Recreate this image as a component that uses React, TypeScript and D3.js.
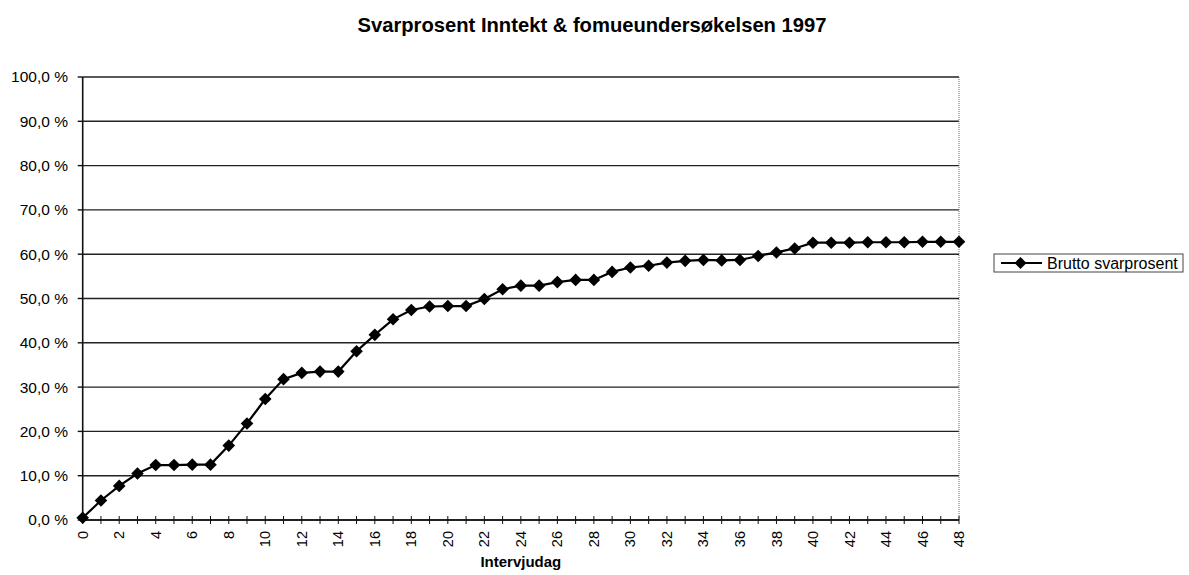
import React from "react";
import * as d3 from "d3";

const days: number[] = Array.from({ length: 49 }, (_, i) => i);
const bruttoSvarprosent: number[] = [
  0.5, 4.4, 7.7, 10.5, 12.4, 12.4, 12.5, 12.5, 16.8, 21.8,
  27.3, 31.8, 33.2, 33.5, 33.5, 38.1, 41.8, 45.3, 47.4, 48.2,
  48.3, 48.3, 49.9, 52.1, 52.9, 52.9, 53.7, 54.2, 54.2, 56.0,
  57.0, 57.4, 58.1, 58.5, 58.7, 58.6, 58.7, 59.6, 60.4, 61.3,
  62.6, 62.6, 62.6, 62.7, 62.7, 62.7, 62.8, 62.8, 62.8,
];
const yTicks: number[] = [0, 10, 20, 30, 40, 50, 60, 70, 80, 90, 100];
const xTickLabels: number[] = d3.range(0, 49, 2);

const W = 1189;
const H = 575;
const L = 82.7;
const R = 959;
const T = 77;
const B = 520;
const font = "'Liberation Sans', Arial, sans-serif";

export default function App() {
  const x = d3.scaleLinear().domain([0, 48]).range([L, R]);
  const y = d3.scaleLinear().domain([0, 100]).range([B, T]);
  const line = d3
    .line<number>()
    .x((_, i) => x(days[i]))
    .y((d) => y(d));
  const diamond = (cx: number, cy: number, r: number) =>
    `M${cx},${cy - r}L${cx + r},${cy}L${cx},${cy + r}L${cx - r},${cy}Z`;
  const fmt = (v: number) => v.toFixed(1).replace(".", ",") + " %";

  return (
    <svg
      width={W}
      height={H}
      style={{ position: "absolute", left: 0, top: 0, background: "#fff" }}
      fontFamily={font}
    >
      <rect x={0} y={0} width={W} height={H} fill="#fff" />
      <text
        x={592}
        y={32}
        textAnchor="middle"
        fontSize={20.2}
        fontWeight="bold"
        fill="#000"
      >
        Svarprosent Inntekt &amp; fomueundersøkelsen 1997
      </text>

      {/* gridlines */}
      {yTicks.map((t) => (
        <line
          key={"g" + t}
          x1={L}
          x2={R}
          y1={y(t)}
          y2={y(t)}
          stroke="#222"
          strokeWidth={1.4}
        />
      ))}
      {/* plot border right */}
      <line x1={R} x2={R} y1={T} y2={B} stroke="#666" strokeWidth={1} strokeDasharray="1,1" />
      {/* y axis */}
      <line x1={L} x2={L} y1={T} y2={B} stroke="#111" strokeWidth={1.6} />
      {yTicks.map((t) => (
        <g key={"y" + t}>
          <line x1={L - 5} x2={L} y1={y(t)} y2={y(t)} stroke="#111" strokeWidth={1.4} />
          <text
            x={68}
            y={y(t)}
            dy="0.35em"
            textAnchor="end"
            fontSize={15.5}
            fill="#000"
          >
            {fmt(t)}
          </text>
        </g>
      ))}
      {/* x axis */}
      <line x1={L} x2={R} y1={B} y2={B} stroke="#111" strokeWidth={1.6} />
      {days.map((d) => (
        <line
          key={"xt" + d}
          x1={x(d)}
          x2={x(d)}
          y1={B - 4}
          y2={B + 4}
          stroke="#111"
          strokeWidth={1}
        />
      ))}
      {xTickLabels.map((d) => (
        <text
          key={"xl" + d}
          transform={`translate(${x(d)},${B + 11}) rotate(-90)`}
          dy="0.35em"
          textAnchor="end"
          fontSize={14.5}
          fill="#000"
        >
          {d}
        </text>
      ))}
      <text
        x={(L + R) / 2}
        y={567}
        textAnchor="middle"
        fontSize={15}
        fontWeight="bold"
        fill="#000"
      >
        Intervjudag
      </text>

      {/* series */}
      <path d={line(bruttoSvarprosent) || ""} fill="none" stroke="#000" strokeWidth={2.2} />
      {bruttoSvarprosent.map((v, i) => (
        <path key={"p" + i} d={diamond(x(days[i]), y(v), 6.3)} fill="#000" />
      ))}

      {/* legend */}
      <rect x={994} y={254} width={189} height={18} fill="#fff" stroke="#444" strokeWidth={1} />
      <line x1={1001} x2={1042} y1={263} y2={263} stroke="#000" strokeWidth={2.2} />
      <path d={diamond(1020.5, 263, 6)} fill="#000" />
      <text x={1047} y={263} dy="0.36em" fontSize={16} fill="#000">
        Brutto svarprosent
      </text>
    </svg>
  );
}
